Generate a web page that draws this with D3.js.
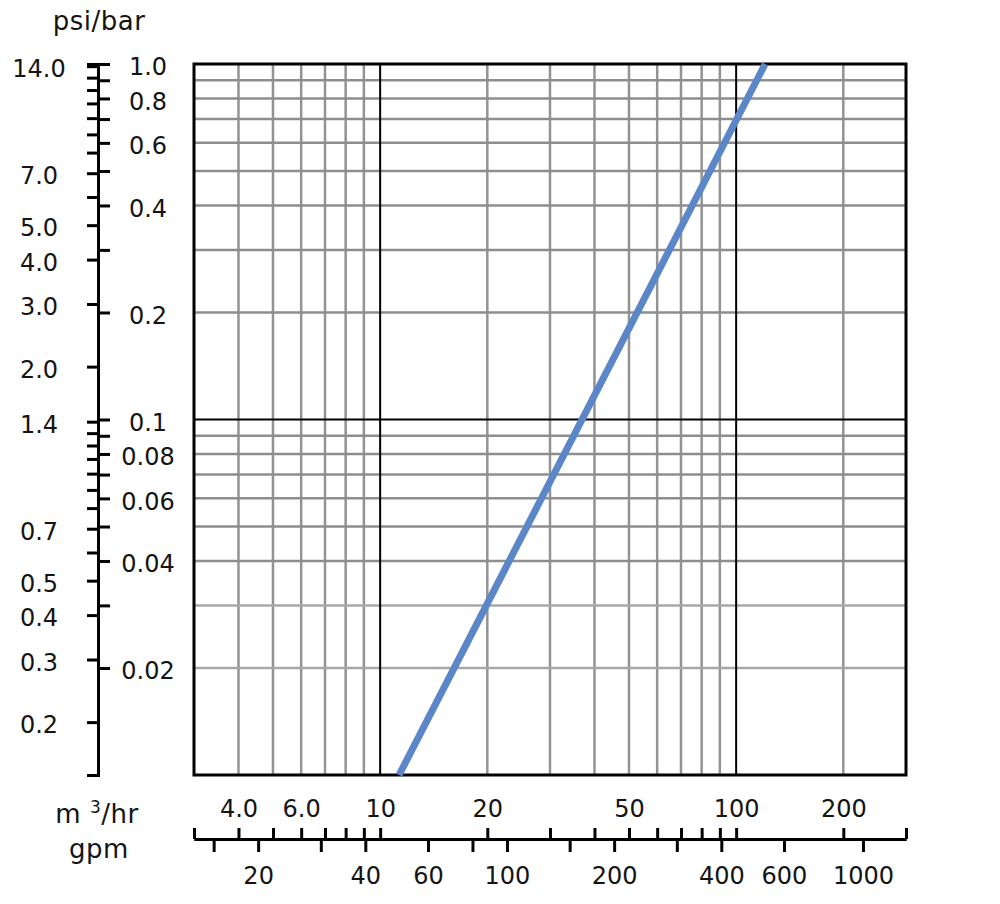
<!DOCTYPE html>
<html>
<head>
<meta charset="utf-8">
<script src="https://cdn.jsdelivr.net/npm/d3@7"></script>
<style>
  body { margin: 0; background: #fff; }
  text { font-family: "DejaVu Sans", sans-serif; font-size: 24px; fill: #141414; }
  .unit { font-size: 26px; letter-spacing: 0.5px; }
</style>
</head>
<body>
<script>
// pressure drop curve
var flow = [11.3, 120.6];   // m3/hr
var drop = [0.01, 1.0];     // bar

// grid lines
var flowGrid = [4, 5, 6, 7, 8, 9, 20, 30, 40, 50, 60, 70, 80, 90, 200];
var flowMajor = [10, 100];
var dropGrid = [0.9, 0.8, 0.7, 0.6, 0.5, 0.4, 0.3, 0.2, 0.09, 0.08, 0.07, 0.06, 0.05, 0.04, 0.03, 0.02];
var dropMajor = [0.1];

// axis ticks and labels
var flowTicks = [3, 4, 5, 6, 7, 8, 9, 10, 20, 30, 40, 50, 60, 70, 80, 90, 100, 200, 300];
var flowLabels = [4, 6, 10, 20, 50, 100, 200];
var gpmTicks = [15, 20, 30, 40, 60, 80, 100, 150, 200, 300, 400, 600, 1000];
var gpmLabels = [20, 40, 60, 100, 200, 400, 600, 1000];
var barTicks = [1.0, 0.9, 0.8, 0.7, 0.6, 0.5, 0.4, 0.3, 0.2, 0.1, 0.09, 0.08, 0.07, 0.06, 0.05, 0.04, 0.03, 0.02];
var barLabels = [1.0, 0.8, 0.6, 0.4, 0.2, 0.1, 0.08, 0.06, 0.04, 0.02];
var psiTicks = [14, 13, 12, 11, 10, 9, 8, 7, 6, 5, 4, 3, 2, 1.4, 1.3, 1.2, 1.1, 1.0, 0.9, 0.8, 0.7, 0.6, 0.5, 0.4, 0.3, 0.2];
var psiLabels = [14, 7, 5, 4, 3, 2, 1.4, 0.7, 0.5, 0.4, 0.3, 0.2];

// unit conversions used by the secondary axes
var psiPerBar = 14.2,
    gpmPerM3 = 4.403;

var width = 1000,
    height = 904;

var svg = d3.select("body")
    .append("svg")
    .attr("width", width)
    .attr("height", height);

var x = d3.scaleLog().domain([3, 300]).range([194, 906]);
var y = d3.scaleLog().domain([0.01, 1]).range([775, 64]);
var gpm = d3.scaleLog().domain([3 * gpmPerM3, 300 * gpmPerM3]).range([194, 906]);
var psi = d3.scaleLog().domain([0.01 * psiPerBar, psiPerBar]).range([775, 64]);

var grid = svg.append("g");

// light grid
grid.selectAll(".vx")
    .data(flowGrid)
    .enter()
    .append("line")
    .attr("x1", function(d){ return x(d); })
    .attr("x2", function(d){ return x(d); })
    .attr("y1", y(0.01))
    .attr("y2", y(1))
    .attr("stroke", "#939393")
    .attr("stroke-width", 2.5);

grid.selectAll(".hy")
    .data(dropGrid)
    .enter()
    .append("line")
    .attr("x1", x(3))
    .attr("x2", x(300))
    .attr("y1", function(d){ return y(d); })
    .attr("y2", function(d){ return y(d); })
    .attr("stroke", function(d){ return d < 0.04 ? "#a8a8a8" : "#8e8e8e"; })
    .attr("stroke-width", 2.5);

// decade lines
grid.selectAll(".mx")
    .data(flowMajor)
    .enter()
    .append("line")
    .attr("x1", function(d){ return x(d); })
    .attr("x2", function(d){ return x(d); })
    .attr("y1", y(0.01))
    .attr("y2", y(1))
    .attr("stroke", "#000")
    .attr("stroke-width", 2);

grid.selectAll(".my")
    .data(dropMajor)
    .enter()
    .append("line")
    .attr("x1", x(3))
    .attr("x2", x(300))
    .attr("y1", function(d){ return y(d); })
    .attr("y2", function(d){ return y(d); })
    .attr("stroke", "#000")
    .attr("stroke-width", 2);

// frame
svg.append("rect")
    .attr("x", x(3))
    .attr("y", y(1))
    .attr("width", x(300) - x(3))
    .attr("height", y(0.01) - y(1))
    .attr("fill", "none")
    .attr("stroke", "#000")
    .attr("stroke-width", 3);

// the curve
var line = d3.line()
    .x(function(d){ return x(d[0]); })
    .y(function(d){ return y(d[1]); });

svg.append("path")
    .datum(d3.zip(flow, drop))
    .attr("d", line)
    .attr("fill", "none")
    .attr("stroke", "#5b87c8")
    .attr("stroke-width", 7);

function styleAxis(g){
    g.attr("font-size", null).attr("font-family", null);
    g.select(".domain").attr("stroke", "#000").attr("stroke-width", 3);
    g.selectAll(".tick line").attr("stroke", "#000").attr("stroke-width", 3);
    g.selectAll("text").attr("fill", "#141414");
}

// psi axis (left side of the vertical rule)
var psiAxis = svg.append("g")
    .attr("transform", "translate(98,0)")
    .call(d3.axisLeft(psi)
        .tickValues(psiTicks)
        .tickSize(11)
        .tickSizeOuter(11)
        .tickFormat(function(d){ return psiLabels.indexOf(d) >= 0 ? d.toFixed(1) : ""; }));
styleAxis(psiAxis);
psiAxis.selectAll("text")
    .attr("x", -59)
    .attr("y", 3)
    .attr("text-anchor", "middle");

// bar axis (right side)
var barAxis = svg.append("g")
    .attr("transform", "translate(98,0)")
    .call(d3.axisRight(y)
        .tickValues(barTicks)
        .tickSize(12)
        .tickSizeOuter(0)
        .tickFormat(function(d){
            if (barLabels.indexOf(d) < 0) return "";
            return d >= 0.1 ? d.toFixed(1) : d.toFixed(2);
        }));
styleAxis(barAxis);
barAxis.selectAll("text")
    .attr("x", 50)
    .attr("y", 3)
    .attr("text-anchor", "middle");

// m3/hr axis (ticks up)
var flowAxis = svg.append("g")
    .attr("transform", "translate(0,839)")
    .call(d3.axisTop(x)
        .tickValues(flowTicks)
        .tickSize(11)
        .tickSizeOuter(0)
        .tickFormat(function(d){
            if (flowLabels.indexOf(d) < 0) return "";
            return d < 10 ? d.toFixed(1) : d;
        }));
styleAxis(flowAxis);
flowAxis.selectAll("text")
    .attr("y", -22)
    .attr("dy", 0);

// gpm axis (ticks down)
var gpmAxis = svg.append("g")
    .attr("transform", "translate(0,839)")
    .call(d3.axisBottom(gpm)
        .tickValues(gpmTicks)
        .tickSize(13)
        .tickSizeOuter(0)
        .tickFormat(function(d){ return gpmLabels.indexOf(d) >= 0 ? d : ""; }));
styleAxis(gpmAxis);
gpmAxis.selectAll("text")
    .attr("y", 45)
    .attr("dy", 0);

// unit titles
svg.append("text")
    .attr("class", "unit")
    .attr("x", 99)
    .attr("y", 30)
    .attr("text-anchor", "middle")
    .text("psi/bar");

var m3 = svg.append("text")
    .attr("class", "unit")
    .attr("x", 97)
    .attr("y", 823)
    .attr("text-anchor", "middle");
m3.append("tspan").text("m ");
m3.append("tspan").attr("dy", -10).style("font-size", "17px").text("3");
m3.append("tspan").attr("dy", 10).text("/hr");

svg.append("text")
    .attr("class", "unit")
    .attr("x", 99)
    .attr("y", 858)
    .attr("text-anchor", "middle")
    .text("gpm");
</script>
</body>
</html>
